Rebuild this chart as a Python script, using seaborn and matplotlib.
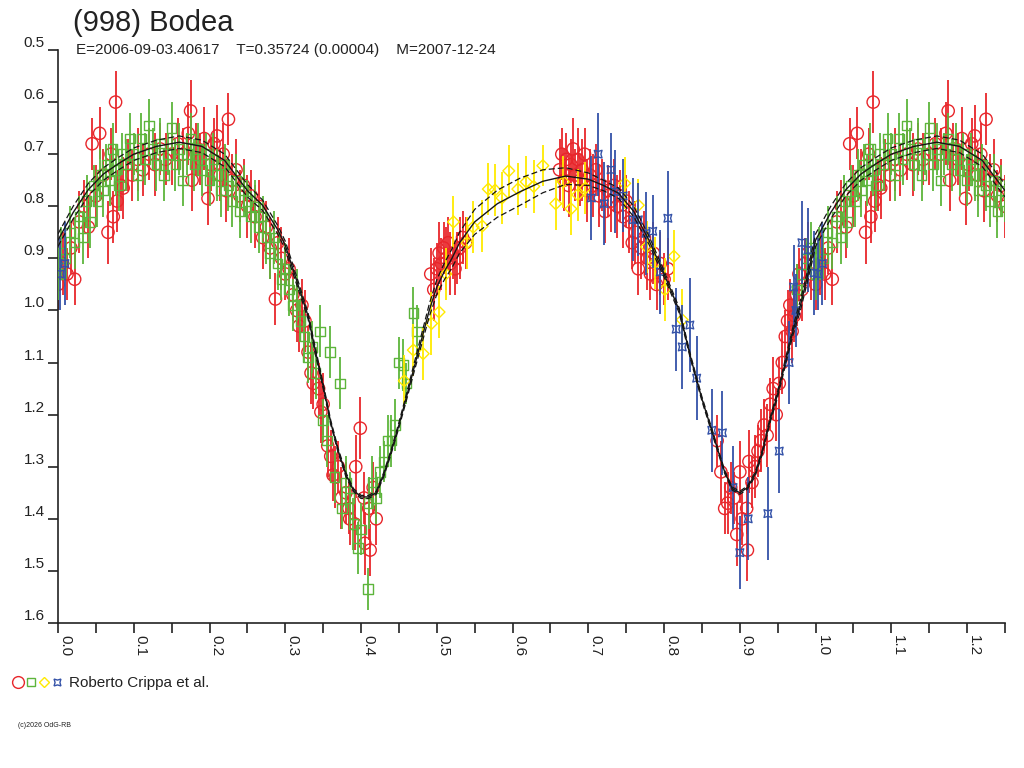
import numpy as np
import pandas as pd
import matplotlib
matplotlib.use("Agg")
import matplotlib.pyplot as plt
import seaborn as sns
from matplotlib.lines import Line2D
from matplotlib.legend_handler import HandlerTuple
from matplotlib.ticker import MultipleLocator

# ---------------- data ----------------
title = "(998) Bodea"
subtitle = "E=2006-09-03.40617    T=0.35724 (0.00004)    M=2007-12-24"
legend_label = "Roberto Crippa et al."
copyright_text = "(c)2026 OdG-RB"

model_phase = [0.00, 0.02, 0.04, 0.06, 0.08, 0.10, 0.13, 0.16, 0.19, 0.22, 0.25,
               0.27, 0.29, 0.30, 0.31, 0.33, 0.34, 0.35, 0.36, 0.37, 0.38,
               0.39, 0.40, 0.41, 0.42, 0.43, 0.44, 0.45, 0.46, 0.47, 0.48,
               0.49, 0.50, 0.51, 0.52, 0.53, 0.55, 0.58, 0.61, 0.64, 0.67,
               0.70, 0.72, 0.74, 0.76, 0.78, 0.80, 0.82, 0.835, 0.85, 0.865,
               0.88, 0.89, 0.90, 0.91, 0.92, 0.93, 0.94, 0.95, 0.96, 0.97,
               0.98, 0.99, 1.00]
model_mag = [0.865, 0.812, 0.768, 0.738, 0.718, 0.700, 0.685, 0.677, 0.685, 0.712, 0.77,
             0.798, 0.845, 0.875, 0.92, 1.01, 1.08, 1.145, 1.215, 1.27, 1.315,
             1.345, 1.358, 1.358, 1.35, 1.315, 1.27, 1.22, 1.166, 1.11, 1.055,
             1.0, 0.955, 0.925, 0.90, 0.87, 0.83, 0.795, 0.772, 0.752, 0.742,
             0.748, 0.76, 0.775, 0.81, 0.865, 0.93, 1.0, 1.09, 1.17, 1.24,
             1.31, 1.342, 1.35, 1.34, 1.315, 1.27, 1.21, 1.16, 1.10, 1.04,
             0.99, 0.93, 0.865]
model_band = [0.012, 0.012, 0.012, 0.012, 0.012, 0.012, 0.012, 0.012, 0.012, 0.012, 0.012,
              0.010, 0.008, 0.008, 0.008, 0.006, 0.006, 0.005, 0.004, 0.004, 0.004,
              0.003, 0.003, 0.003, 0.003, 0.004, 0.004, 0.005, 0.006, 0.008, 0.010,
              0.012, 0.014, 0.016, 0.018, 0.020, 0.024, 0.026, 0.026, 0.022, 0.016,
              0.012, 0.010, 0.010, 0.010, 0.008, 0.006, 0.005, 0.004, 0.004, 0.004,
              0.003, 0.003, 0.003, 0.003, 0.004, 0.004, 0.005, 0.006, 0.006, 0.008,
              0.010, 0.010, 0.012]

red_phase = [0.000, 0.006, 0.012, 0.017, 0.022, 0.028, 0.034, 0.040, 0.045, 0.050,
             0.055, 0.060, 0.066, 0.070, 0.073, 0.076, 0.078, 0.083, 0.086, 0.092,
             0.098, 0.105, 0.112, 0.120, 0.128, 0.135, 0.142, 0.150, 0.158, 0.165,
             0.172, 0.175, 0.177, 0.182, 0.188, 0.193, 0.198, 0.202, 0.206, 0.210,
             0.214, 0.218, 0.222, 0.225, 0.230, 0.235, 0.240, 0.245, 0.250,
             0.255, 0.260, 0.265, 0.270, 0.275, 0.280, 0.287, 0.290, 0.295, 0.300,
             0.305, 0.310, 0.315, 0.318, 0.322, 0.326, 0.330, 0.334, 0.337, 0.347,
             0.344, 0.350, 0.363, 0.356, 0.360, 0.366, 0.370, 0.374, 0.385, 0.380,
             0.384, 0.393, 0.392, 0.405, 0.399, 0.404, 0.412, 0.410, 0.416, 0.420,
             0.492, 0.496, 0.500, 0.503, 0.506, 0.509, 0.512, 0.515, 0.518, 0.521,
             0.524, 0.527, 0.530, 0.534, 0.538,
             0.662, 0.665, 0.668, 0.671, 0.674, 0.677, 0.680, 0.683, 0.686, 0.689,
             0.692, 0.695, 0.698, 0.702, 0.706, 0.710, 0.714, 0.718, 0.722, 0.726,
             0.730, 0.734, 0.738, 0.742, 0.746, 0.750, 0.754, 0.758, 0.762, 0.766,
             0.770, 0.774, 0.778, 0.782, 0.786, 0.790, 0.795, 0.800, 0.805,
             0.870, 0.875, 0.880, 0.884, 0.888, 0.896, 0.892, 0.900, 0.903, 0.910,
             0.909, 0.912, 0.916, 0.920, 0.924, 0.928, 0.932, 0.936, 0.940, 0.944,
             0.948, 0.952, 0.956, 0.960, 0.963, 0.966, 0.969, 0.972, 0.975, 0.978,
             0.982, 0.986, 0.990, 0.994]
red_mag = [0.95, 0.91, 0.93, 0.88, 0.94, 0.83, 0.80, 0.84, 0.68, 0.78,
           0.66, 0.74, 0.85, 0.70, 0.82, 0.60, 0.79, 0.76, 0.765, 0.72,
           0.74, 0.71, 0.73, 0.70, 0.72, 0.69, 0.71, 0.70, 0.68, 0.70,
           0.66, 0.617, 0.75, 0.69, 0.71, 0.67, 0.785, 0.72, 0.68, 0.665,
           0.74, 0.70, 0.77, 0.633, 0.75, 0.73, 0.78, 0.76, 0.80,
           0.78, 0.82, 0.80, 0.86, 0.84, 0.88, 0.978, 0.87, 0.90, 0.93,
           0.92, 0.97, 1.00, 1.03, 0.99, 1.02, 1.08, 1.12, 1.14, 1.195,
           1.15, 1.18, 1.316, 1.26, 1.28, 1.32, 1.30, 1.36, 1.40, 1.35,
           1.38, 1.30, 1.41, 1.447, 1.226, 1.36, 1.46, 1.38, 1.34, 1.40,
           0.93, 0.96, 0.92, 0.89, 0.91, 0.88, 0.90, 0.87, 0.91, 0.89,
           0.92, 0.90, 0.88, 0.86, 0.87,
           0.73, 0.70, 0.75, 0.71, 0.76, 0.72, 0.69, 0.74, 0.71, 0.75,
           0.73, 0.70, 0.77, 0.74, 0.76, 0.73, 0.78, 0.76, 0.81, 0.77,
           0.79, 0.76, 0.80, 0.78, 0.82, 0.79, 0.83, 0.87, 0.85, 0.92,
           0.88, 0.86, 0.90, 0.93, 0.89, 0.95, 0.91, 0.94, 0.92,
           1.25, 1.31, 1.38, 1.37, 1.34, 1.43, 1.36, 1.31, 1.40, 1.46,
           1.38, 1.29, 1.33, 1.30, 1.27, 1.25, 1.22, 1.24, 1.18, 1.15,
           1.20, 1.14, 1.10, 1.05, 1.02, 0.99, 1.04, 1.01, 0.97, 0.93,
           0.96, 0.91, 0.89, 0.93]
red_err = [0.05, 0.06, 0.05, 0.05, 0.05, 0.06, 0.05, 0.06, 0.05, 0.06,
           0.05, 0.05, 0.06, 0.05, 0.05, 0.06, 0.06, 0.05, 0.06, 0.05,
           0.05, 0.06, 0.05, 0.05, 0.06, 0.05, 0.05, 0.06, 0.05, 0.05,
           0.06, 0.06, 0.06, 0.05, 0.05, 0.06, 0.05, 0.05, 0.05, 0.06,
           0.05, 0.06, 0.06, 0.05, 0.05, 0.06, 0.05, 0.05, 0.06,
           0.05, 0.06, 0.05, 0.06, 0.05, 0.06, 0.05, 0.05, 0.06, 0.05,
           0.06, 0.05, 0.06, 0.05, 0.05, 0.06, 0.05, 0.06, 0.05, 0.06,
           0.05, 0.06, 0.05, 0.06, 0.05, 0.06, 0.05, 0.06, 0.05, 0.06,
           0.05, 0.06, 0.05, 0.06, 0.06, 0.05, 0.05, 0.06, 0.05, 0.05,
           0.05, 0.06, 0.05, 0.06, 0.05, 0.05, 0.06, 0.05, 0.06, 0.05,
           0.05, 0.05, 0.06, 0.05, 0.05,
           0.06, 0.05, 0.06, 0.05, 0.06, 0.05, 0.06, 0.05, 0.06, 0.05,
           0.06, 0.05, 0.06, 0.05, 0.06, 0.05, 0.06, 0.05, 0.06, 0.05,
           0.06, 0.05, 0.06, 0.05, 0.06, 0.05, 0.06, 0.05, 0.06, 0.05,
           0.06, 0.05, 0.06, 0.05, 0.06, 0.05, 0.06, 0.05, 0.06,
           0.05, 0.06, 0.05, 0.06, 0.05, 0.06, 0.05, 0.06, 0.05, 0.06,
           0.05, 0.06, 0.05, 0.06, 0.05, 0.06, 0.05, 0.06, 0.05, 0.06,
           0.05, 0.05, 0.06, 0.05, 0.06, 0.05, 0.06, 0.05, 0.06, 0.05,
           0.06, 0.05, 0.06, 0.05]

green_phase = [0.000, 0.004, 0.010, 0.016, 0.022, 0.028, 0.033, 0.038, 0.042, 0.047,
               0.052, 0.056, 0.060, 0.064, 0.068, 0.072, 0.076, 0.080, 0.085, 0.090,
               0.095, 0.100, 0.105, 0.110, 0.115, 0.120, 0.125, 0.130, 0.135, 0.140,
               0.145, 0.150, 0.155, 0.160, 0.165, 0.170, 0.175, 0.180, 0.185, 0.190,
               0.195, 0.200, 0.205, 0.210, 0.215, 0.220, 0.225, 0.230, 0.235, 0.240,
               0.245, 0.250, 0.255, 0.260, 0.265, 0.270, 0.275, 0.280, 0.285, 0.290,
               0.295, 0.300, 0.305, 0.310, 0.315, 0.320, 0.325, 0.330, 0.335, 0.340,
               0.346, 0.350, 0.355, 0.359, 0.365, 0.372, 0.375, 0.380, 0.385, 0.390,
               0.396, 0.400, 0.409, 0.410, 0.415, 0.420, 0.425, 0.430, 0.435, 0.440,
               0.445, 0.450, 0.456, 0.460, 0.469, 0.474, 0.975, 0.982, 0.988, 0.994]
green_mag = [0.93, 0.89, 0.90, 0.85, 0.87, 0.82, 0.86, 0.79, 0.83, 0.76,
             0.79, 0.74, 0.77, 0.72, 0.75, 0.69, 0.73, 0.76, 0.70, 0.72,
             0.67, 0.70, 0.74, 0.67, 0.71, 0.645, 0.69, 0.72, 0.68, 0.74,
             0.70, 0.65, 0.72, 0.69, 0.75, 0.70, 0.67, 0.72, 0.69, 0.73,
             0.70, 0.75, 0.71, 0.74, 0.77, 0.72, 0.76, 0.79, 0.75, 0.81,
             0.77, 0.79, 0.82, 0.80, 0.84, 0.82, 0.86, 0.89, 0.86, 0.91,
             0.94, 0.92, 0.96, 0.99, 0.97, 1.02, 1.05, 1.09, 1.07, 1.12,
             1.04, 1.21, 1.25, 1.08, 1.32, 1.14, 1.38, 1.33, 1.36, 1.41,
             1.456, 1.42, 1.535, 1.37, 1.33, 1.36, 1.31, 1.29, 1.25, 1.25,
             1.22, 1.10, 1.105, 1.14, 1.005, 1.04, 0.96, 0.93, 0.90, 0.88]
green_err = [0.05, 0.05, 0.04, 0.05, 0.05, 0.04, 0.05, 0.05, 0.05, 0.04,
             0.05, 0.05, 0.05, 0.04, 0.05, 0.05, 0.05, 0.05, 0.04, 0.05,
             0.05, 0.04, 0.05, 0.05, 0.05, 0.05, 0.04, 0.05, 0.05, 0.05,
             0.04, 0.05, 0.05, 0.05, 0.05, 0.04, 0.05, 0.05, 0.05, 0.05,
             0.04, 0.05, 0.05, 0.05, 0.05, 0.04, 0.05, 0.05, 0.05, 0.05,
             0.05, 0.04, 0.05, 0.05, 0.05, 0.04, 0.05, 0.05, 0.05, 0.05,
             0.04, 0.05, 0.05, 0.05, 0.05, 0.04, 0.05, 0.05, 0.05, 0.05,
             0.05, 0.04, 0.05, 0.05, 0.05, 0.05, 0.04, 0.05, 0.05, 0.05,
             0.05, 0.05, 0.04, 0.05, 0.05, 0.05, 0.05, 0.04, 0.05, 0.05,
             0.05, 0.05, 0.05, 0.04, 0.05, 0.05, 0.05, 0.05, 0.04, 0.05]

yellow_phase = [0.457, 0.469, 0.482, 0.493, 0.503, 0.512, 0.522, 0.540, 0.548, 0.560,
                0.568, 0.577, 0.586, 0.595, 0.607, 0.618, 0.628, 0.640, 0.657, 0.667,
                0.677, 0.686, 0.696, 0.748, 0.766, 0.777, 0.788, 0.801, 0.813, 0.824]
yellow_mag = [1.135, 1.076, 1.083, 1.025, 1.003, 0.93, 0.83, 0.87, 0.84, 0.838,
              0.767, 0.769, 0.784, 0.732, 0.767, 0.753, 0.762, 0.722, 0.795, 0.753,
              0.805, 0.778, 0.765, 0.756, 0.798, 0.878, 0.909, 0.96, 0.896, 1.018]
yellow_err = [0.05, 0.05, 0.05, 0.06, 0.05, 0.05, 0.05, 0.05, 0.05, 0.05,
              0.05, 0.05, 0.05, 0.05, 0.05, 0.05, 0.05, 0.04, 0.05, 0.05,
              0.05, 0.05, 0.05, 0.05, 0.05, 0.05, 0.05, 0.06, 0.05, 0.06]

blue_phase = [0.003, 0.009, 0.704, 0.713, 0.721, 0.730, 0.735, 0.746, 0.759, 0.766,
              0.776, 0.785, 0.795, 0.805, 0.816, 0.824, 0.834, 0.843, 0.863, 0.877,
              0.891, 0.900, 0.911, 0.937, 0.952, 0.965, 0.971, 0.974, 0.982, 0.990,
              0.998]
blue_mag = [0.93, 0.91, 0.784, 0.70, 0.795, 0.73, 0.772, 0.78, 0.826, 0.826,
            0.852, 0.848, 0.926, 0.823, 1.036, 1.07, 1.028, 1.13, 1.23, 1.235,
            1.34, 1.465, 1.40, 1.39, 1.27, 1.10, 0.955, 1.00, 0.87, 0.884,
            0.928]
blue_err = [0.07, 0.08, 0.08, 0.08, 0.08, 0.07, 0.08, 0.07, 0.08, 0.07,
            0.08, 0.07, 0.08, 0.09, 0.08, 0.08, 0.09, 0.08, 0.08, 0.08,
            0.08, 0.07, 0.08, 0.09, 0.08, 0.08, 0.08, 0.07, 0.08, 0.08,
            0.08]

# ---------------- styling ----------------
sns.set_theme(style="white")
plt.rcParams['font.family'] = ['Liberation Sans', 'DejaVu Sans']

RED = "#E8262B"
GREEN = "#5DB53C"
YELLOW = "#FFEA00"
BLUE = "#3452A8"
INK = "#222222"
WRAP = 0.25  # phases below this are repeated after 1.0

def wrap(df):
    extra = df[df["phase"] <= WRAP].copy()
    extra["phase"] = extra["phase"] + 1.0
    return pd.concat([df, extra], ignore_index=True)

fig = plt.figure(figsize=(10.24, 7.68), dpi=100)
ax = fig.add_axes([58 / 1024, 1 - 623 / 768, (1005 - 58) / 1024, (623 - 50) / 768])

series = [
    ("red", red_phase, red_mag, red_err, RED, "o", 78),
    ("green", green_phase, green_mag, green_err, GREEN, "s", 46),
    ("yellow", yellow_phase, yellow_mag, yellow_err, YELLOW, "D", 36),
    ("blue", blue_phase, blue_mag, blue_err, BLUE, (4, 1, 45), 62),
]

z = 2
for name, ph, mg, er, col, mk, sz in series:
    df = wrap(pd.DataFrame({"phase": ph, "mag": mg, "err": er}))
    ax.vlines(df["phase"], df["mag"] - df["err"], df["mag"] + df["err"],
              color=col, lw=1.3, zorder=z)
    sns.scatterplot(data=df, x="phase", y="mag", ax=ax, marker=mk, s=sz,
                    facecolor="none", edgecolor=col, linewidth=1.0, zorder=z + 0.5,
                    legend=False)
    z += 1

mdf = pd.DataFrame({"phase": model_phase, "mag": model_mag, "band": model_band})
extra = mdf[(mdf["phase"] > 0) & (mdf["phase"] <= 0.26)].copy()
extra["phase"] = extra["phase"] + 1.0
mdf = pd.concat([mdf, extra], ignore_index=True).sort_values("phase")
mdf["upper"] = mdf["mag"] - mdf["band"]
mdf["lower"] = mdf["mag"] + mdf["band"]
sns.lineplot(data=mdf, x="phase", y="mag", ax=ax, color="#151515", lw=1.0,
             estimator=None, sort=False, zorder=10)
for col in ["upper", "lower"]:
    sns.lineplot(data=mdf, x="phase", y=col, ax=ax, color="#151515", lw=0.9,
                 estimator=None, sort=False, zorder=10, dashes=(4.8, 2.4))

ax.set_xlim(0, 1.25)
ax.set_ylim(1.6, 0.5)
ax.set_xlabel("")
ax.set_ylabel("")
for s in ["top", "right"]:
    ax.spines[s].set_visible(False)
for s in ["left", "bottom"]:
    ax.spines[s].set_color(INK)
    ax.spines[s].set_linewidth(1.2)

yt = np.round(np.arange(0.5, 1.61, 0.1), 1)
ax.set_yticks(yt)
ax.set_yticklabels([f"{v:.1f}" for v in yt], fontsize=11, color=INK, va="bottom")
xt = np.round(np.arange(0.0, 1.21, 0.1), 1)
ax.set_xticks(xt)
ax.set_xticklabels([f"{v:.1f}" for v in xt], fontsize=11, color=INK,
                   rotation=-90, ha="left", va="top")
ax.xaxis.set_minor_locator(MultipleLocator(0.05))
ax.tick_params(axis="y", which="major", direction="out", length=7.5, width=1.2,
               color=INK, pad=2, left=True)
ax.tick_params(axis="x", which="both", direction="out", length=7.5, width=1.2,
               color=INK, pad=1, bottom=True)
ax.grid(False)

fig.text(73 / 1024, 1 - 31 / 768, title, fontsize=21, color=INK, ha="left", va="baseline")
fig.text(76 / 1024, 1 - 54 / 768, subtitle, fontsize=11, color=INK, ha="left", va="baseline")
fig.text(18 / 1024, 1 - 727 / 768, copyright_text, fontsize=5, color=INK, ha="left", va="baseline")

handles = (
    Line2D([], [], ls="none", marker="o", ms=8.5, mfc="none", mec=RED, mew=1.0),
    Line2D([], [], ls="none", marker="s", ms=6, mfc="none", mec=GREEN, mew=1.0),
    Line2D([], [], ls="none", marker="D", ms=5.5, mfc="none", mec=YELLOW, mew=1.0),
    Line2D([], [], ls="none", marker=(4, 1, 45), ms=7, mfc="none", mec=BLUE, mew=1.0),
)
fig.legend([handles], [legend_label], handler_map={tuple: HandlerTuple(ndivide=None, pad=0.0)},
           loc="center left", bbox_to_anchor=(12 / 1024, 1 - 683 / 768), frameon=False,
           handlelength=3.4, handletextpad=0.35, fontsize=11, borderpad=0, borderaxespad=0,
           labelcolor=INK)

fig.savefig("out.png", dpi=100)
